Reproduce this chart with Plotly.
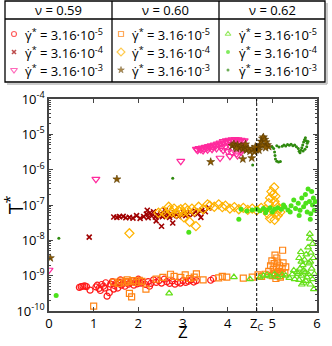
import plotly.graph_objects as go

# (Z, log10 T*)
# nu = 0.59
nu059_g5 = [(0.68, -9.33), (0.72, -9.31), (0.76, -9.30), (0.80, -9.29), (0.84, -9.31),
            (0.92, -9.41), (1.05, -9.32), (1.08, -9.27), (1.12, -9.36), (1.18, -9.25),
            (1.22, -9.30), (1.27, -9.20), (1.30, -9.58), (1.35, -9.48), (1.38, -9.24),
            (1.42, -9.17), (1.46, -9.28), (1.50, -9.22), (1.54, -9.35), (1.58, -9.19),
            (1.62, -9.27), (1.66, -9.21), (1.70, -9.30), (1.74, -9.17), (1.78, -9.24),
            (1.82, -9.20), (1.86, -9.14), (1.90, -9.27), (1.94, -9.19), (1.98, -9.23),
            (2.02, -9.15), (2.06, -9.21), (2.10, -9.18), (2.16, -9.25), (2.22, -9.17),
            (2.28, -9.22), (2.34, -9.12), (2.40, -9.19), (2.46, -9.14), (2.52, -9.21),
            (2.58, -9.10), (2.64, -9.17), (2.70, -9.22), (2.76, -9.15), (2.82, -9.24),
            (2.88, -9.18), (2.94, -9.21), (3.00, -9.14), (3.06, -9.19), (3.12, -9.16),
            (3.18, -9.12), (3.24, -9.18), (3.30, -9.14), (3.62, -9.13), (3.68, -9.08),
            (1.15, -9.42), (1.25, -9.35), (1.45, -9.38), (2.25, -9.30), (1.60, -9.12),
            (2.00, -9.10)]
nu059_g4 = [(0.90, -7.91), (1.45, -7.34), (1.52, -7.35), (1.58, -7.33), (1.66, -7.32),
            (1.72, -7.36), (1.80, -7.35), (1.88, -7.37), (1.96, -7.30), (2.04, -7.38),
            (2.12, -7.33), (2.18, -7.26), (2.22, -7.36), (2.26, -7.22), (2.30, -7.31),
            (2.34, -7.19), (2.38, -7.34), (2.42, -7.27), (2.46, -7.31), (2.50, -7.24),
            (2.54, -7.33), (2.58, -7.28), (2.62, -7.21), (2.66, -7.29), (2.70, -7.35),
            (2.74, -7.25), (2.78, -7.30), (2.82, -7.22), (2.86, -7.27), (2.90, -7.32),
            (2.94, -7.24), (2.98, -7.29), (3.02, -7.22), (3.06, -7.30), (3.10, -7.26),
            (3.16, -7.20), (3.22, -7.27), (3.28, -7.18), (3.34, -7.24), (3.42, -7.15),
            (3.50, -7.19), (3.58, -7.08), (2.52, -7.60), (2.40, -7.45), (2.77, -7.51),
            (3.40, -7.35), (2.20, -7.15), (2.60, -7.15)]
nu059_g3 = [(0.00, -8.84), (1.05, -6.27), (2.95, -5.76), (3.83, -5.67),
            (3.30, -5.42), (3.33, -5.45), (3.36, -5.40), (3.40, -5.43), (3.43, -5.38),
            (3.47, -5.41), (3.50, -5.36), (3.53, -5.39), (3.57, -5.34), (3.60, -5.37),
            (3.63, -5.32), (3.67, -5.35), (3.70, -5.30), (3.73, -5.33), (3.77, -5.27),
            (3.80, -5.30), (3.83, -5.24), (3.87, -5.27), (3.90, -5.20), (3.93, -5.24),
            (3.97, -5.18), (4.00, -5.22), (4.03, -5.16), (4.07, -5.20), (4.10, -5.15),
            (4.13, -5.19), (4.17, -5.14), (4.20, -5.18), (4.23, -5.15), (4.27, -5.19),
            (4.30, -5.16), (4.33, -5.20), (4.37, -5.18),
            (3.45, -5.46), (3.55, -5.44), (3.65, -5.42), (3.75, -5.40), (3.85, -5.38),
            (3.95, -5.35), (4.05, -5.33), (4.15, -5.30), (4.25, -5.32), (4.35, -5.35),
            (3.90, -5.45), (4.00, -5.48), (4.10, -5.52), (4.20, -5.55), (4.30, -5.50),
            (4.05, -5.62), (4.22, -5.60), (4.32, -5.42)]

# nu = 0.60
nu060_g5 = [(1.00, -9.86), (1.45, -9.18), (1.55, -9.22), (1.62, -9.15), (1.70, -9.20),
            (1.75, -9.12), (1.78, -9.17), (1.80, -9.50), (1.85, -9.60), (1.88, -9.14),
            (1.95, -9.19), (2.02, -9.13), (2.08, -9.16), (2.17, -9.38), (2.40, -9.10),
            (2.55, -9.05), (2.72, -8.96), (2.80, -9.02), (2.95, -9.05), (3.05, -8.98),
            (3.15, -9.08), (3.25, -9.04), (3.30, -8.95), (3.45, -9.12), (3.80, -9.06),
            (3.88, -9.02), (3.98, -9.04), (4.35, -9.07), (4.55, -9.04), (4.68, -8.98),
            (4.76, -9.02), (4.84, -8.96), (4.92, -8.88), (4.96, -8.72), (4.99, -8.58),
            (5.02, -8.82), (5.04, -8.66), (5.06, -8.42), (5.06, -8.95), (5.09, -8.76),
            (5.12, -8.62), (5.14, -8.88), (5.16, -8.72), (5.19, -8.94), (5.22, -8.80),
            (5.24, -8.64), (5.23, -8.28), (5.10, -8.50), (5.00, -9.00), (5.08, -9.08),
            (5.18, -9.04), (5.28, -8.92), (5.04, -8.95), (5.12, -8.90), (5.16, -9.00),
            (5.30, -8.75)]
nu060_g4 = [(1.80, -7.80), (2.45, -7.22), (2.55, -7.18), (2.62, -7.26), (2.70, -7.14),
            (2.75, -7.20), (2.80, -7.10), (2.85, -7.24), (2.90, -7.16), (2.95, -7.12),
            (3.00, -7.20), (3.05, -7.08), (3.10, -7.15), (3.15, -7.48), (3.29, -7.60),
            (3.20, -7.10), (3.25, -7.18), (3.35, -7.05), (3.45, -7.12), (3.55, -6.98),
            (3.60, -7.02), (3.70, -7.05), (3.80, -6.98), (3.88, -7.06), (3.95, -7.02),
            (4.05, -7.10), (4.15, -7.06), (4.25, -7.12), (4.35, -7.08), (4.45, -7.14),
            (4.55, -7.10), (4.65, -7.15), (4.75, -7.08), (4.85, -7.12), (4.92, -6.95),
            (4.95, -6.80), (4.98, -6.62), (5.04, -6.50), (5.02, -6.70), (5.05, -6.90),
            (5.08, -7.00), (5.10, -7.20), (5.12, -7.30), (5.15, -7.10), (4.90, -7.25),
            (4.95, -7.38), (5.05, -7.42), (5.18, -7.20), (5.00, -7.15), (5.07, -6.75),
            (2.68, -7.05), (3.02, -7.35)]
nu060_g3 = [(0.03, -8.50), (1.52, -6.27), (3.62, -5.78), (4.34, -5.70), (4.54, -5.67),
            (4.10, -5.32), (4.14, -5.28), (4.18, -5.35), (4.22, -5.30), (4.26, -5.38),
            (4.30, -5.33), (4.34, -5.42), (4.38, -5.36), (4.42, -5.45), (4.46, -5.40),
            (4.50, -5.48), (4.55, -5.42), (4.60, -5.50), (4.64, -5.44), (4.68, -5.38),
            (4.72, -5.30), (4.75, -5.20), (4.78, -5.12), (4.80, -5.08), (4.83, -5.15),
            (4.86, -5.22), (4.89, -5.30), (4.92, -5.35), (4.78, -5.32), (4.70, -5.45),
            (4.20, -5.40), (4.40, -5.28), (4.62, -5.35), (4.85, -5.38)]

# nu = 0.62
nu062_g5 = [(2.69, -9.50), (4.14, -9.04), (4.50, -9.10), (4.72, -9.05), (4.80, -9.00),
            (4.88, -8.98), (4.95, -9.02), (5.05, -8.96), (5.12, -9.04), (5.22, -8.98),
            (5.30, -9.00), (5.38, -9.06), (5.45, -8.96), (5.50, -9.10), (5.55, -8.90),
            (5.60, -9.12), (5.62, -8.80), (5.65, -9.00), (5.68, -8.70), (5.70, -9.20),
            (5.72, -8.55), (5.74, -8.90), (5.76, -8.40), (5.78, -9.05), (5.80, -8.20),
            (5.82, -8.65), (5.84, -7.95), (5.85, -9.25), (5.86, -8.35), (5.84, -7.82),
            (5.88, -8.80), (5.90, -8.10), (5.90, -9.10), (5.92, -8.50), (5.94, -8.95),
            (5.93, -9.38), (5.64, -8.33), (5.60, -8.50), (5.65, -8.60), (5.70, -8.85),
            (5.75, -9.15), (5.80, -8.95), (5.85, -8.60), (5.58, -8.95), (5.66, -9.25),
            (5.48, -8.85)]
nu062_g4 = [(0.16, -9.56), (3.13, -7.77), (4.25, -7.40), (4.30, -7.12), (4.43, -7.17),
            (4.55, -7.14), (4.65, -7.12), (4.72, -7.16), (4.80, -7.10), (4.88, -7.14),
            (4.95, -7.08), (5.05, -7.12), (5.12, -7.08), (5.20, -7.12), (5.28, -7.06),
            (5.35, -7.14), (5.42, -7.02), (5.48, -6.86), (5.52, -7.10), (5.58, -6.95),
            (5.62, -7.15), (5.66, -6.80), (5.70, -7.05), (5.74, -6.70), (5.78, -7.20),
            (5.80, -6.55), (5.83, -6.90), (5.86, -7.25), (5.88, -6.62), (5.90, -7.00),
            (5.92, -6.80), (5.94, -7.15), (5.96, -6.90), (5.85, -7.40), (5.60, -7.30),
            (5.75, -6.95), (5.40, -7.20), (5.00, -7.20), (4.85, -7.22), (5.25, -7.00)]
nu062_g3 = [(0.22, -7.94), (2.77, -6.24), (4.56, -5.87), (5.00, -5.36), (5.03, -5.40),
            (5.05, -5.50), (5.06, -5.60), (5.07, -5.70), (5.10, -5.76), (5.14, -5.78),
            (5.18, -5.77), (5.22, -5.34), (5.26, -5.30), (5.30, -5.33), (5.34, -5.29),
            (5.38, -5.31), (5.42, -5.28), (5.46, -5.32), (5.50, -5.30), (5.54, -5.35),
            (5.58, -5.40), (5.60, -5.48), (5.62, -5.52), (5.64, -5.45), (5.66, -5.38),
            (5.68, -5.30), (5.70, -5.22), (5.72, -5.15), (5.74, -5.10), (5.76, -5.18),
            (5.78, -5.25), (5.80, -5.20), (5.77, -5.35), (5.73, -5.42), (5.69, -5.47),
            (5.10, -5.32), (5.15, -5.36)]

nu_labels = ["0.59", "0.60", "0.62"]
rate_labels = ["3.16·10<sup>-5</sup>", "3.16·10<sup>-4</sup>", "3.16·10<sup>-3</sup>"]
z_c = 4.65

groups = [[nu059_g5, nu059_g4, nu059_g3],
          [nu060_g5, nu060_g4, nu060_g3],
          [nu062_g5, nu062_g4, nu062_g3]]

styles = [
    [dict(symbol="circle-open", size=6, color="#ff1a1a", line=dict(width=1.2, color="#ff1a1a")),
     dict(symbol="x-thin-open", size=5, color="#a00000", line=dict(width=1.6, color="#a00000")),
     dict(symbol="triangle-down-open", size=7, color="#ff2a9d", line=dict(width=1.2, color="#ff2a9d"))],
    [dict(symbol="square-open", size=6, color="#ff8414", line=dict(width=1.2, color="#ff8414")),
     dict(symbol="diamond-open", size=7, color="#ffb300", line=dict(width=1.2, color="#ffb300")),
     dict(symbol="star", size=6, color="#8b5a00", line=dict(width=0.6, color="#5a3a00"))],
    [dict(symbol="triangle-up-open", size=6, color="#66e01a", line=dict(width=1.2, color="#66e01a")),
     dict(symbol="circle", size=5, color="#4ce21a", line=dict(width=0, color="#4ce21a")),
     dict(symbol="circle", size=3, color="#2f8a0f", line=dict(width=0, color="#2f8a0f"))],
]

FONT = "Open Sans"
W, H, B = 332, 346, 35
PH = H - B  # paper height in px

fig = go.Figure()

for col in range(3):
    for row in range(3):
        pts = groups[col][row]
        fig.add_trace(go.Scatter(
            x=[p[0] for p in pts], y=[10 ** p[1] for p in pts],
            mode="markers", marker=styles[col][row], showlegend=False,
            hoverinfo="skip"))

# legend table, drawn on a helper axis in pixel units
col_left = [5, 112, 219]
row_y = [34, 52, 70]
for col in range(3):
    fig.add_trace(go.Scatter(
        x=[col_left[col] + 9] * 3, y=row_y, xaxis="x2", yaxis="y2",
        mode="markers", showlegend=False, hoverinfo="skip",
        marker=dict(symbol=[s["symbol"] for s in styles[col]],
                    size=[max(s["size"] - 1, 3) for s in styles[col]],
                    color=[s["color"] for s in styles[col]],
                    line=dict(width=[s["line"]["width"] for s in styles[col]],
                              color=[s["line"]["color"] for s in styles[col]]))))

annotations = []
for col in range(3):
    annotations.append(dict(
        x=col_left[col] + 53.5, y=10, xref="x2", yref="y2", showarrow=False,
        text="ν = " + nu_labels[col], font=dict(family=FONT, size=13, color="black"),
        xanchor="center", yanchor="middle"))
    for row in range(3):
        annotations.append(dict(
            x=col_left[col] + 18, y=row_y[row], xref="x2", yref="y2", showarrow=False,
            text="γ̇<sup>*</sup> = " + rate_labels[row],
            font=dict(family=FONT, size=13, color="black"),
            xanchor="left", yanchor="middle"))

# x axis title placed below the tick labels
annotations.append(dict(
    x=0.5, xref="x domain", y=-(H - 1 - PH) / PH, yref="paper", showarrow=False,
    text="Z", font=dict(family=FONT, size=17, color="black"),
    xanchor="center", yanchor="bottom"))

line = dict(color="black", width=1.3)
shapes = [
    dict(type="line", x0=7, x1=327, y0=84, y1=84, xref="x2", yref="y2",
         line=dict(color="#bbbbbb", width=1.5)),
    dict(type="line", x0=327, x1=327, y0=3, y1=84, xref="x2", yref="y2",
         line=dict(color="#bbbbbb", width=1.5)),
    dict(type="rect", x0=5, x1=325, y0=1, y1=82, xref="x2", yref="y2",
         line=line, fillcolor="rgba(0,0,0,0)"),
    dict(type="line", x0=5, x1=325, y0=19, y1=19, xref="x2", yref="y2", line=line),
    dict(type="line", x0=112, x1=112, y0=1, y1=82, xref="x2", yref="y2", line=line),
    dict(type="line", x0=219, x1=219, y0=1, y1=82, xref="x2", yref="y2", line=line),
    dict(type="line", x0=z_c, x1=z_c, y0=0, y1=1, xref="x", yref="y domain",
         line=dict(color="black", width=1, dash="3px,2px")),
]

y_exp = list(range(-10, -3))
minor_vals = [k * 10.0 ** e for e in range(-10, -4) for k in range(2, 10)]

axis_common = dict(showline=True, linecolor="#444444", linewidth=1.5, mirror="ticks",
                   ticks="inside", ticklen=4, tickcolor="#444444", showgrid=False,
                   zeroline=False, automargin=False,
                   tickfont=dict(family=FONT, size=13, color="black"))

fig.update_layout(
    width=W, height=H,
    margin=dict(l=0, r=0, t=0, b=B),
    paper_bgcolor="white", plot_bgcolor="rgba(0,0,0,0)",
    showlegend=False,
    xaxis=dict(domain=[49 / W, 317 / W], range=[0, 6],
               tickvals=[0, 1, 2, 3, 4, z_c, 5, 6],
               ticktext=["0", "1", "2", "3", "4", "Z<sub>C</sub>", "5", "6"],
               **axis_common),
    yaxis=dict(domain=[0, (PH - 99) / PH], type="log", range=[-10, -4],
               tickvals=[10.0 ** e for e in y_exp],
               ticktext=["10<sup>%d</sup>" % e for e in y_exp],
               minor=dict(ticks="inside", ticklen=2, tickcolor="#444444",
                          tickmode="array", tickvals=minor_vals),
               title=dict(text="T<sup>*</sup>", font=dict(family=FONT, size=20, color="black"),
                          standoff=2),
               **axis_common),
    xaxis2=dict(domain=[0, 1], range=[0, W], visible=False, anchor="y2", fixedrange=True),
    yaxis2=dict(domain=[0, 1], range=[PH, 0], visible=False, anchor="x2", fixedrange=True),
    annotations=annotations,
    shapes=shapes,
)

# the page's default 8px body margin would shift the figure off the window
fig.write_html("out.html", config={"displayModeBar": False},
               post_script="document.body.style.margin='0px';")
